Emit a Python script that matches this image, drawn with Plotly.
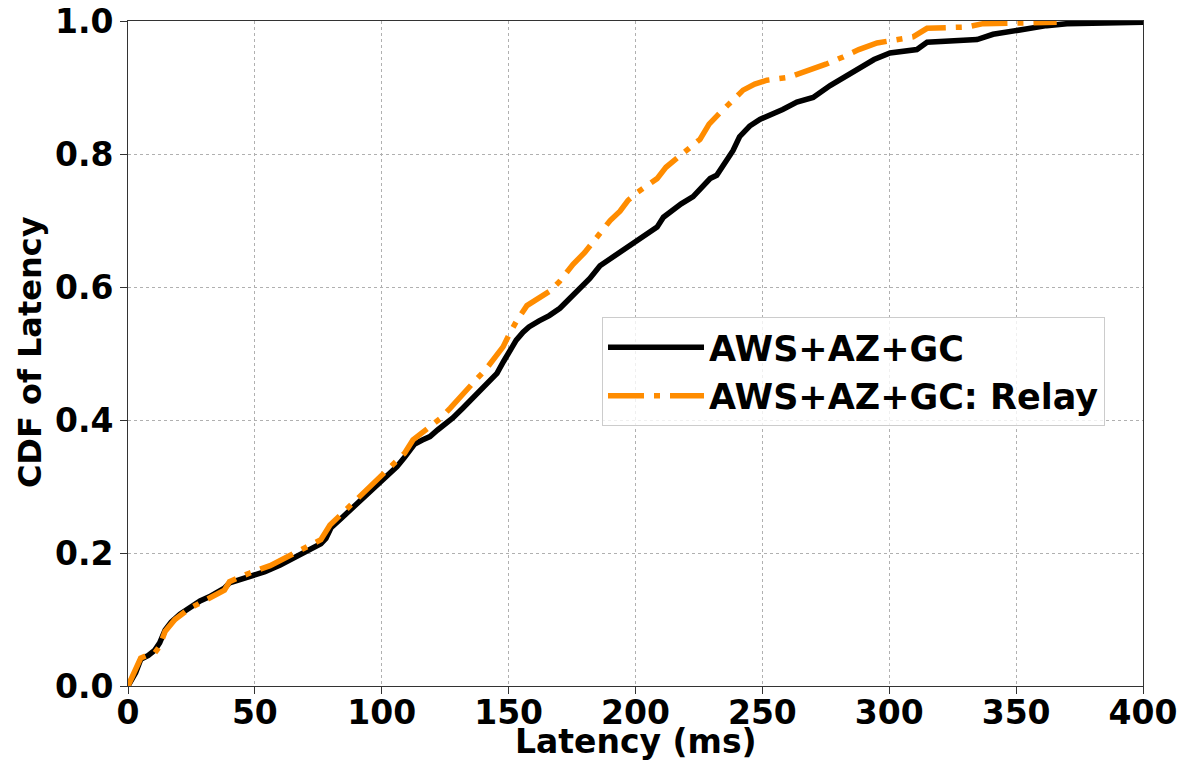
import plotly.graph_objects as go

# AWS+AZ+GC (black solid)
aws_x = [0, 3, 5, 8, 10.6, 12.5, 14.6, 17, 20.5, 24, 28.4, 32, 36, 38, 40, 44, 48, 54, 60, 64, 68, 72, 76, 78, 80,
         84, 87.5, 91, 95, 99, 103, 106, 109, 111, 113, 116, 119, 122, 125, 128, 132, 137, 141, 145.4, 148, 150.5,
         153, 155.7, 158, 162, 166, 170.2, 174, 178, 182, 186, 191, 196.7, 202, 208.5, 211, 214.8, 218, 222.7, 226,
         229.4, 232, 235, 238.4, 241, 245, 249, 253, 258, 263.6, 270, 276.7, 282, 288, 294, 300.3, 305, 310.9,
         314.9, 320, 334.6, 340.9, 348, 356.6, 362, 370, 385, 400]
aws_y = [0, 0.02, 0.04, 0.046, 0.054, 0.065, 0.084, 0.096, 0.108, 0.118, 0.128, 0.134, 0.142, 0.147, 0.155, 0.16,
         0.163, 0.172, 0.182, 0.19, 0.198, 0.207, 0.214, 0.222, 0.238, 0.252, 0.264, 0.277, 0.292, 0.306, 0.318,
         0.33, 0.344, 0.355, 0.364, 0.37, 0.375, 0.385, 0.394, 0.403, 0.418, 0.437, 0.452, 0.47, 0.488, 0.505,
         0.52, 0.532, 0.54, 0.549, 0.557, 0.568, 0.582, 0.597, 0.613, 0.632, 0.645, 0.66, 0.672, 0.69, 0.705,
         0.717, 0.725, 0.736, 0.75, 0.763, 0.768, 0.785, 0.805, 0.826, 0.842, 0.852, 0.858, 0.867, 0.878, 0.885,
         0.903, 0.915, 0.928, 0.942, 0.952, 0.955, 0.957, 0.968, 0.969, 0.972, 0.98, 0.985, 0.989, 0.993, 0.996,
         0.997, 0.998]

# AWS+AZ+GC: Relay (orange dash-dot)
relay_x = [0, 2, 5, 8, 10.6, 12.5, 14.6, 18.5, 24.4, 32, 38, 40, 44, 48, 56, 64, 72, 76, 79.6, 84, 87.5, 91, 95, 99,
           103, 106, 109, 112.3, 115, 119, 123, 127, 132, 137, 141, 144, 147.8, 150, 153, 157.2, 161, 166.3, 170,
           175.4, 180, 186, 190, 193.9, 197, 200.6, 204, 208.5, 212, 216.4, 220, 225.4, 229, 233.3, 238, 242.4,
           247, 251.8, 260, 268.8, 275, 281.8, 288, 295.2, 302, 309.4, 314.9, 322, 330.6, 337, 350, 366]
relay_y = [0, 0.015, 0.042, 0.047, 0.05, 0.06, 0.082, 0.1, 0.117, 0.132, 0.144, 0.157, 0.164, 0.17, 0.181, 0.197,
           0.212, 0.22, 0.242, 0.258, 0.272, 0.284, 0.298, 0.315, 0.328, 0.338, 0.35, 0.37, 0.378, 0.39, 0.402,
           0.418, 0.44, 0.46, 0.476, 0.49, 0.51, 0.527, 0.548, 0.572, 0.582, 0.594, 0.608, 0.634, 0.652, 0.68, 0.7,
           0.714, 0.73, 0.742, 0.752, 0.763, 0.78, 0.795, 0.805, 0.822, 0.845, 0.862, 0.88, 0.896, 0.905, 0.911,
           0.915, 0.926, 0.935, 0.946, 0.957, 0.967, 0.972, 0.976, 0.989, 0.99, 0.991, 0.996, 0.997, 0.998]

x_ticks = [0, 50, 100, 150, 200, 250, 300, 350, 400]
y_ticks = [0.0, 0.2, 0.4, 0.6, 0.8, 1.0]
y_tick_labels = ["0.0", "0.2", "0.4", "0.6", "0.8", "1.0"]
x_title = "Latency (ms)"
y_title = "CDF of Latency"

FONT = "DejaVu Sans"

fig = go.Figure()
fig.add_trace(go.Scatter(x=aws_x, y=aws_y, mode="lines", name="AWS+AZ+GC",
                         line=dict(color="black", width=5.5)))
fig.add_trace(go.Scatter(x=relay_x, y=relay_y, mode="lines", name="AWS+AZ+GC: Relay",
                         line=dict(color="#FF8C00", width=5.5, dash="36px,10px,6px,10px")))

axis_common = dict(showline=True, linecolor="#333333", linewidth=1, mirror=True,
                   ticks="outside", ticklen=7, tickcolor="#333333", tickwidth=1,
                   showgrid=True, gridcolor="#b0b0b0", gridwidth=1, griddash="dot",
                   zeroline=False, automargin=False,
                   tickfont=dict(family=FONT, size=33, color="black", weight="bold"))

fig.update_xaxes(range=[0, 400], tickvals=x_ticks, ticktext=[str(v) for v in x_ticks],
                 ticklabelposition="outside", ticklabelstandoff=-10, **axis_common)
fig.update_yaxes(range=[0, 1], tickvals=y_ticks, ticktext=y_tick_labels, **axis_common)

fig.add_annotation(text=x_title, xref="paper", yref="paper", x=0.5, y=-0.0842,
                   xanchor="center", yanchor="middle", showarrow=False, borderpad=0,
                   font=dict(family=FONT, size=33, color="black", weight="bold"))
fig.add_annotation(text=y_title, xref="paper", yref="paper", x=-0.0966, y=0.502,
                   xanchor="center", yanchor="middle", showarrow=False, textangle=-90,
                   font=dict(family=FONT, size=32, color="black", weight="bold"))

fig.update_layout(
    width=1183, height=762,
    margin=dict(l=128, r=40, t=21, b=76),
    paper_bgcolor="white", plot_bgcolor="white",
    font=dict(family=FONT, color="black"),
    legend=dict(x=0.467, y=0.555, xanchor="left", yanchor="top",
                bgcolor="rgba(255,255,255,0.8)", bordercolor="#cccccc", borderwidth=1,
                font=dict(family=FONT, size=35, color="black", weight="bold"),
                itemwidth=96),
)

fig.write_html("out.html")
